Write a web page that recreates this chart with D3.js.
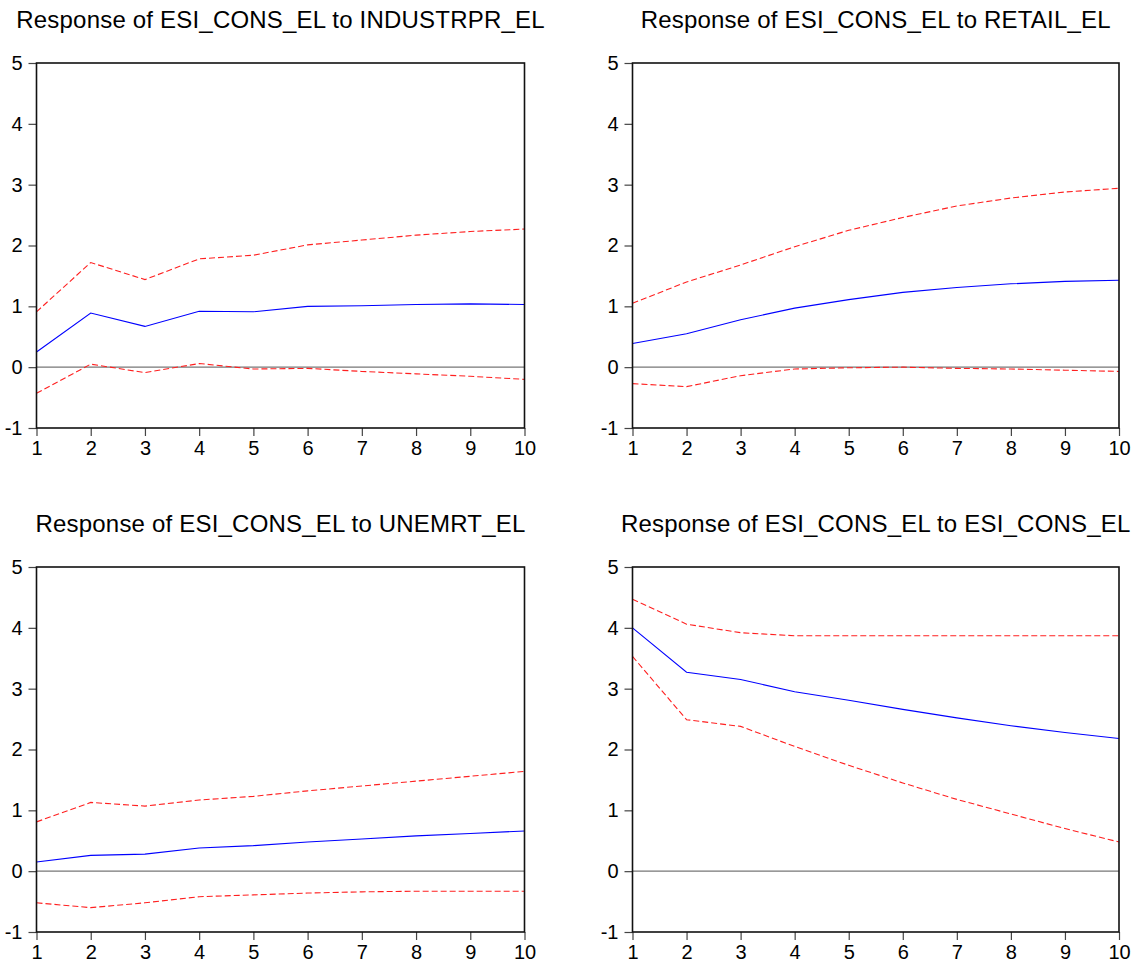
<!DOCTYPE html>
<html>
<head>
<meta charset="utf-8">
<script src="https://cdn.jsdelivr.net/npm/d3@7"></script>
<style>
  body { margin: 0; background: #fff; }
  text { font-family: "Liberation Sans", Arial, sans-serif; fill: #000; }
</style>
</head>
<body>
<div id="chart"></div>
<script>
// horizons 1..10
const periods = [1, 2, 3, 4, 5, 6, 7, 8, 9, 10];
const yTicks = [-1, 0, 1, 2, 3, 4, 5];

const titles = [
    'Response of ESI_CONS_EL to INDUSTRPR_EL',
    'Response of ESI_CONS_EL to RETAIL_EL',
    'Response of ESI_CONS_EL to UNEMRT_EL',
    'Response of ESI_CONS_EL to ESI_CONS_EL'
];

// impulse responses (blue) and +/- 2 s.e. bands (red)
const industrResp  = [0.25, 0.89, 0.67, 0.92, 0.91, 1.00, 1.01, 1.03, 1.04, 1.03];
const industrUpper = [0.91, 1.72, 1.44, 1.78, 1.84, 2.01, 2.09, 2.17, 2.23, 2.27];
const industrLower = [-0.43, 0.05, -0.09, 0.06, -0.03, -0.02, -0.07, -0.11, -0.15, -0.20];

const retailResp  = [0.39, 0.55, 0.78, 0.97, 1.11, 1.23, 1.31, 1.37, 1.41, 1.43];
const retailUpper = [1.05, 1.40, 1.68, 1.98, 2.25, 2.46, 2.65, 2.78, 2.88, 2.94];
const retailLower = [-0.27, -0.32, -0.14, -0.03, -0.01, 0.00, -0.02, -0.03, -0.05, -0.07];

const unemrtResp  = [0.15, 0.26, 0.28, 0.38, 0.42, 0.48, 0.53, 0.58, 0.62, 0.66];
const unemrtUpper = [0.81, 1.13, 1.07, 1.17, 1.23, 1.32, 1.40, 1.48, 1.56, 1.64];
const unemrtLower = [-0.52, -0.60, -0.52, -0.42, -0.39, -0.36, -0.34, -0.33, -0.33, -0.33];

const esiResp  = [4.00, 3.27, 3.15, 2.95, 2.81, 2.66, 2.52, 2.39, 2.28, 2.18];
const esiUpper = [4.47, 4.06, 3.92, 3.87, 3.87, 3.87, 3.87, 3.87, 3.87, 3.87];
const esiLower = [3.53, 2.49, 2.38, 2.05, 1.74, 1.45, 1.18, 0.94, 0.70, 0.48];

const panels = [
    { title: titles[0], resp: industrResp, upper: industrUpper, lower: industrLower, left: 36.5, top: 63, right: 524.5, bottom: 428 },
    { title: titles[1], resp: retailResp,  upper: retailUpper,  lower: retailLower,  left: 632.5, top: 63, right: 1119, bottom: 428 },
    { title: titles[2], resp: unemrtResp,  upper: unemrtUpper,  lower: unemrtLower,  left: 36.5, top: 567, right: 524.5, bottom: 932 },
    { title: titles[3], resp: esiResp,     upper: esiUpper,     lower: esiLower,     left: 632.5, top: 567, right: 1119, bottom: 932 }
];

const svg = d3.select('#chart').append('svg')
    .attr('width', 1142)
    .attr('height', 965);

panels.forEach(function(p) {
    const x = d3.scaleLinear().domain([1, 10]).range([p.left, p.right]);
    const y = d3.scaleLinear().domain([-1, 5]).range([p.bottom, p.top]);

    const g = svg.append('g');

    // title
    g.append('text')
        .attr('x', (p.left + p.right) / 2)
        .attr('y', p.top - 35)
        .attr('text-anchor', 'middle')
        .style('font-size', '24px')
        .style('letter-spacing', '0.2px')
        .text(p.title);

    // zero line
    g.append('line')
        .attr('x1', p.left).attr('x2', p.right)
        .attr('y1', y(0)).attr('y2', y(0))
        .attr('stroke', '#777')
        .attr('stroke-width', 1.2);

    const line = d3.line()
        .x((d, i) => x(periods[i]))
        .y(d => y(d));

    [p.upper, p.lower].forEach(function(band) {
        g.append('path')
            .datum(band)
            .attr('d', line)
            .attr('fill', 'none')
            .attr('stroke', '#ff2020')
            .attr('stroke-width', 1.1)
            .attr('stroke-dasharray', '6,3');
    });

    g.append('path')
        .datum(p.resp)
        .attr('d', line)
        .attr('fill', 'none')
        .attr('stroke', '#0000ff')
        .attr('stroke-width', 1.1);

    // axes (plain hyphen for negatives, like the original)
    const yAxis = d3.axisLeft(y)
        .tickValues(yTicks)
        .tickSize(8)
        .tickPadding(6)
        .tickFormat(d => String(d));

    const xAxis = d3.axisBottom(x)
        .tickValues(periods)
        .tickSize(8)
        .tickPadding(5)
        .tickFormat(d => String(d));

    const ya = g.append('g')
        .attr('transform', `translate(${p.left},0)`)
        .call(yAxis);
    const xa = g.append('g')
        .attr('transform', `translate(0,${p.bottom})`)
        .call(xAxis);

    [ya, xa].forEach(function(a) {
        a.select('.domain').remove();
        a.selectAll('.tick line').attr('stroke', '#444').attr('stroke-width', 1.2);
        a.selectAll('.tick text')
            .style('font-size', '20px')
            .style('font-family', '"Liberation Sans", Arial, sans-serif')
            .attr('fill', '#000');
    });

    // frame
    g.append('rect')
        .attr('x', p.left).attr('y', p.top)
        .attr('width', p.right - p.left)
        .attr('height', p.bottom - p.top)
        .attr('fill', 'none')
        .attr('stroke', '#111')
        .attr('stroke-width', 1.6);
});
</script>
</body>
</html>
